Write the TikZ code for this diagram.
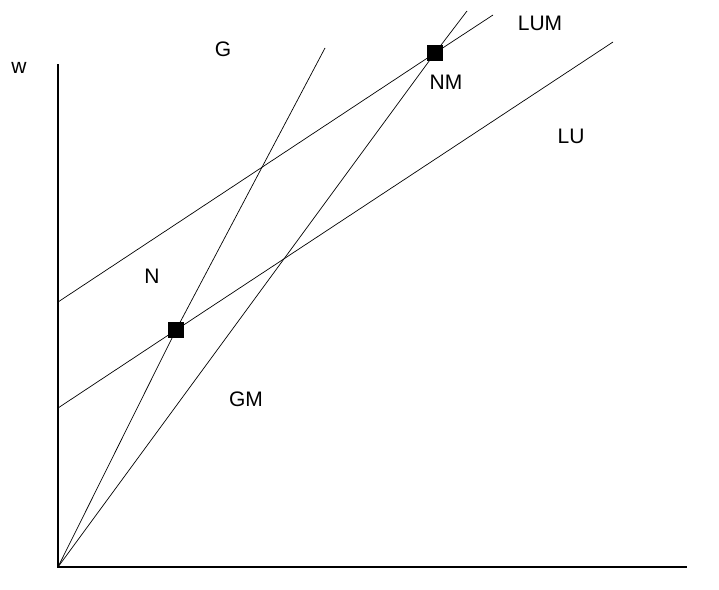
\documentclass[tikz,border=0pt]{standalone}
\usepackage{fontspec}
\setmainfont{Liberation Sans}

\begin{document}
\begin{tikzpicture}[x=1pt,y=-1pt,
  axis/.style={line width=1.4pt},
  curve/.style={line width=0.7pt},
  lbl/.style={font=\fontsize{21}{25}\selectfont, inner sep=0pt},
  eqpt/.style={fill=black, minimum size=16pt, inner sep=0pt}]
\useasboundingbox (0,0) rectangle (719,589);
\coordinate (O) at (58,567);
\coordinate (ytop) at (58,64);
\coordinate (xend) at (687,567);
\draw[axis] (ytop) -- (O) -- (xend);
\node[eqpt] (E1) at (176,330) {};
\node[eqpt] (E2) at (435,53) {};
\coordinate (Gtop) at (325,48);
\coordinate (GMtop) at (467,11);
\coordinate (LUMa) at (58,302);
\coordinate (LUMb) at (493,15);
\coordinate (LUa) at (58,408);
\coordinate (LUb) at (613,42);
\draw[curve] (O) -- (E1.center) -- (Gtop);
\draw[curve] (O) -- (E2.center) -- (GMtop);
\draw[curve] (LUMa) -- (E2.center) -- (LUMb);
\draw[curve] (LUa) -- (E1.center) -- (LUb);
\node[lbl] (w) at (19,68) {w};
\node[lbl] (G) at (223,49) {G};
\node[lbl] (N) at (152,276) {N};
\node[lbl] (LUM) at (540,23) {LUM};
\node[lbl] (NM) at (446,82) {NM};
\node[lbl] (LU) at (571,136) {LU};
\node[lbl] (GM) at (246,399) {GM};
\end{tikzpicture}
\end{document}
